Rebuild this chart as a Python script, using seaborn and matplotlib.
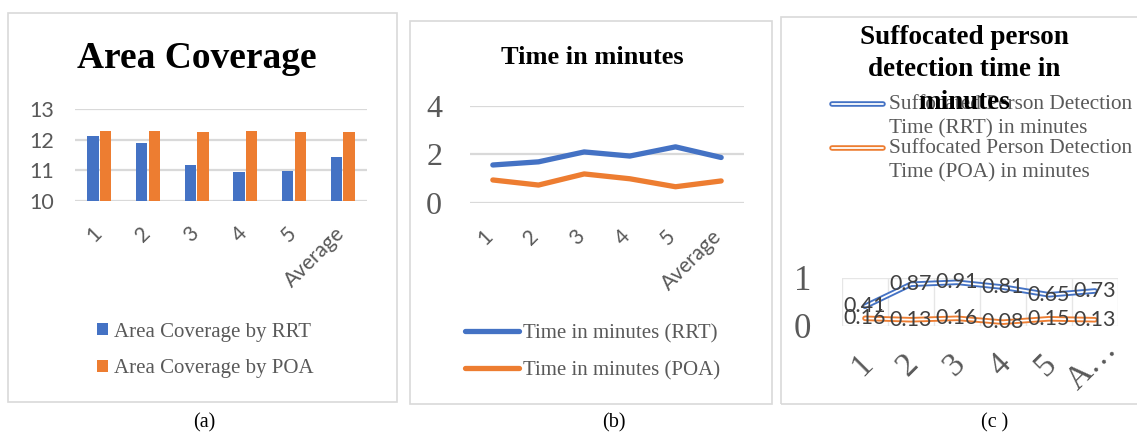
import matplotlib
matplotlib.use("Agg")
import matplotlib.pyplot as plt
import matplotlib.transforms as mtransforms
import seaborn as sns
import pandas as pd
import numpy as np
from matplotlib.lines import Line2D
from matplotlib.patches import Rectangle

# ---------------- data ----------------
categories = ["1", "2", "3", "4", "5", "Average"]
coverage_rrt = [12.12, 11.90, 11.19, 10.95, 10.98, 11.42]
coverage_poa = [12.29, 12.27, 12.25, 12.27, 12.24, 12.26]
time_rrt = [1.56, 1.69, 2.10, 1.93, 2.31, 1.87]
time_poa = [0.94, 0.73, 1.19, 0.99, 0.66, 0.90]
detect_rrt = [0.41, 0.87, 0.91, 0.81, 0.65, 0.73]
detect_poa = [0.16, 0.13, 0.16, 0.08, 0.15, 0.13]
c_tick_labels = ["1", "2", "3", "4", "5", "A\u2026"]

cov_names = ["Area Coverage by RRT", "Area Coverage by POA"]
time_names = ["Time in minutes (RRT)", "Time in minutes (POA)"]
det_names = ["Suffocated Person Detection\nTime (RRT) in minutes",
             "Suffocated Person Detection\nTime (POA) in minutes"]

BLUE = "#4472C4"
ORANGE = "#ED7D31"
GRID = "#d9d9d9"
GRAY = "#595959"
SERIF = "Liberation Serif"
SANS = "Lato"

sns.set_style("white")
plt.rcParams["font.family"] = ["Liberation Serif", "DejaVu Serif"]

W, H = 1137, 433
fig = plt.figure(figsize=(W / 100, H / 100), dpi=100)


def rect(x0, y0, x1, y1):
    return [x0 / W, 1 - y1 / H, (x1 - x0) / W, (y1 - y0) / H]


def fx(x):
    return x / W


def fy(y):
    return 1 - y / H


def shift_labels(labels, dx_px):
    off = mtransforms.ScaledTranslation(dx_px / 100, 0, fig.dpi_scale_trans)
    for t in labels:
        t.set_transform(t.get_transform() + off)


# panel borders
for (x0, y0, x1, y1) in [(8, 13, 397, 402), (410, 21, 772, 404), (781, 17, 1145, 404)]:
    fig.add_artist(Rectangle((fx(x0), fy(y1)), (x1 - x0) / W, (y1 - y0) / H,
                             transform=fig.transFigure, fill=False,
                             edgecolor=GRID, lw=1.2))

# ---------------- (a) bar chart ----------------
axa = fig.add_axes(rect(75, 109, 367, 201))
dfa = pd.DataFrame({
    "cat": categories * 2,
    "val": coverage_rrt + coverage_poa,
    "series": [cov_names[0]] * 6 + [cov_names[1]] * 6,
})
sns.barplot(data=dfa, x="cat", y="val", hue="series", palette=[BLUE, ORANGE],
            saturation=1, width=0.52, gap=0.08, linewidth=0, ax=axa)
axa.set_ylim(10, 13)
axa.set_yticks([10, 11, 12, 13])
axa.set_xlim(-0.5, 5.5)
axa.grid(axis="y", color=GRID, lw=1.6)
axa.set_axisbelow(True)
sns.despine(ax=axa, left=True, bottom=True)
axa.set_xlabel("")
axa.set_ylabel("")
axa.tick_params(axis="y", length=0, pad=15, labelsize=15.5, labelcolor=GRAY)
axa.tick_params(axis="x", length=0, pad=16, labelsize=15, labelcolor=GRAY)
for t in axa.get_yticklabels() + axa.get_xticklabels():
    t.set_fontfamily(SANS)
for t in axa.get_xticklabels():
    t.set_rotation(45)
    t.set_ha("right")
    t.set_va("top")
shift_labels(axa.get_xticklabels(), 6)
h, l = axa.get_legend_handles_labels()
axa.legend(h, l, loc="center left", bbox_to_anchor=(fx(97), fy(350.5)),
           bbox_transform=fig.transFigure, frameon=False, borderpad=0,
           borderaxespad=0, handlelength=0.52, handleheight=0.52,
           handletextpad=0.3, labelspacing=0.85,
           prop={"family": SERIF, "size": 15}, labelcolor=GRAY)
fig.text(fx(197), fy(58), "Area Coverage", ha="center", va="center",
         family=SERIF, weight="bold", size=27, color="black")

# ---------------- (b) line chart ----------------
axb = fig.add_axes(rect(470, 106, 744, 202.7))
dfb = pd.DataFrame({
    "cat": categories * 2,
    "val": time_rrt + time_poa,
    "series": [time_names[0]] * 6 + [time_names[1]] * 6,
})
sns.lineplot(data=dfb, x="cat", y="val", hue="series", palette=[BLUE, ORANGE],
             lw=3.8, sort=False, ax=axb)
for ln in axb.lines:
    ln.set_solid_capstyle("round")
    ln.set_solid_joinstyle("round")
axb.set_ylim(0, 4)
axb.set_yticks([0, 2, 4])
axb.set_xlim(-0.5, 5.5)
axb.grid(axis="y", color=GRID, lw=1.6)
axb.set_axisbelow(True)
sns.despine(ax=axb, left=True, bottom=True)
axb.set_xlabel("")
axb.set_ylabel("")
axb.tick_params(axis="y", length=0, pad=20, labelsize=23, labelcolor=GRAY)
axb.tick_params(axis="x", length=0, pad=17, labelsize=15, labelcolor=GRAY)
for t in axb.get_yticklabels():
    t.set_fontfamily(SERIF)
for t in axb.get_xticklabels():
    t.set_fontfamily(SANS)
    t.set_rotation(45)
    t.set_ha("right")
    t.set_va("top")
shift_labels(axb.get_xticklabels(), 4)
h, l = axb.get_legend_handles_labels()
for hh in h:
    hh.set_solid_capstyle("round")
axb.legend(h, l, loc="center left", bbox_to_anchor=(fx(465), fy(352)),
           bbox_transform=fig.transFigure, frameon=False, borderpad=0,
           borderaxespad=0, handlelength=2.6, handletextpad=0.2,
           labelspacing=0.85, prop={"family": SERIF, "size": 15},
           labelcolor=GRAY)
fig.text(fx(592), fy(57), "Time in minutes", ha="center", va="center",
         family=SERIF, weight="bold", size=19, color="black")

# ---------------- (c) double line chart ----------------
axc = fig.add_axes(rect(842, 278, 1118, 326))
dfc = pd.DataFrame({
    "cat": categories * 2,
    "val": detect_rrt + detect_poa,
    "series": [det_names[0]] * 6 + [det_names[1]] * 6,
})
sns.lineplot(data=dfc, x="cat", y="val", hue="series", palette=[BLUE, ORANGE],
             lw=4.0, sort=False, ax=axc, legend=False)
sns.lineplot(data=dfc, x="cat", y="val", hue="series", palette=["white", "white"],
             lw=1.3, sort=False, ax=axc, legend=False)
axc.set_ylim(0, 1)
axc.set_yticks([0, 1])
axc.set_xlim(-0.5, 5.5)
axc.set_xticks(range(6))
axc.set_xticklabels(c_tick_labels)
axc.set_xticks(np.arange(-0.5, 6.0, 1.0), minor=True)
axc.grid(axis="y", which="major", color="#e6e6e6", lw=1.0)
axc.grid(axis="x", which="minor", color="#e6e6e6", lw=1.0)
axc.grid(axis="x", which="major", visible=False)
axc.set_axisbelow(True)
sns.despine(ax=axc, left=True, bottom=True)
axc.set_xlabel("")
axc.set_ylabel("")
axc.tick_params(axis="y", length=0, pad=22, labelsize=25, labelcolor=GRAY)
axc.tick_params(axis="x", which="both", length=0, pad=28, labelsize=24,
                labelcolor=GRAY)
for t in axc.get_yticklabels():
    t.set_fontfamily(SERIF)
for t in axc.get_xticklabels():
    t.set_fontfamily(SERIF)
    t.set_rotation(45)
    t.set_rotation_mode("anchor")
    t.set_ha("center")
    t.set_va("center")
shift_labels(axc.get_xticklabels(), -3)
for i, (vr, vp) in enumerate(zip(detect_rrt, detect_poa)):
    axc.text(i, vr, f"{vr:.2f}", ha="center", va="center", family=SANS,
             size=15.5, color="#404040")
    axc.text(i, vp, f"{vp:.2f}", ha="center", va="center", family=SANS,
             size=15.5, color="#404040")

# legend for (c): double-line handles with wrapped labels
for y, col, name in [(104, BLUE, det_names[0]), (148, ORANGE, det_names[1])]:
    fig.add_artist(Line2D([fx(832), fx(883)], [fy(y), fy(y)], color=col, lw=4.0,
                          transform=fig.transFigure))
    fig.add_artist(Line2D([fx(832), fx(883)], [fy(y), fy(y)], color="white",
                          lw=1.3, transform=fig.transFigure))
    fig.text(fx(889), fy(y - 9), name, ha="left", va="top", family=SERIF,
             size=15.3, color=GRAY, linespacing=1.35)

fig.text(fx(964), fy(70), "Suffocated person\ndetection time in\nminutes",
         ha="center", va="center", family=SERIF, weight="bold", size=19.5,
         color="black", linespacing=1.4)

# panel captions
fig.text(fx(204), fy(423), "(a)", ha="center", va="center", family=SERIF,
         size=14.5, color="black")
fig.text(fx(614), fy(423), "(b)", ha="center", va="center", family=SERIF,
         size=14.5, color="black")
fig.text(fx(995), fy(423), "(c )", ha="center", va="center", family=SERIF,
         size=14.5, color="black")

fig.savefig("out.png", dpi=100)
